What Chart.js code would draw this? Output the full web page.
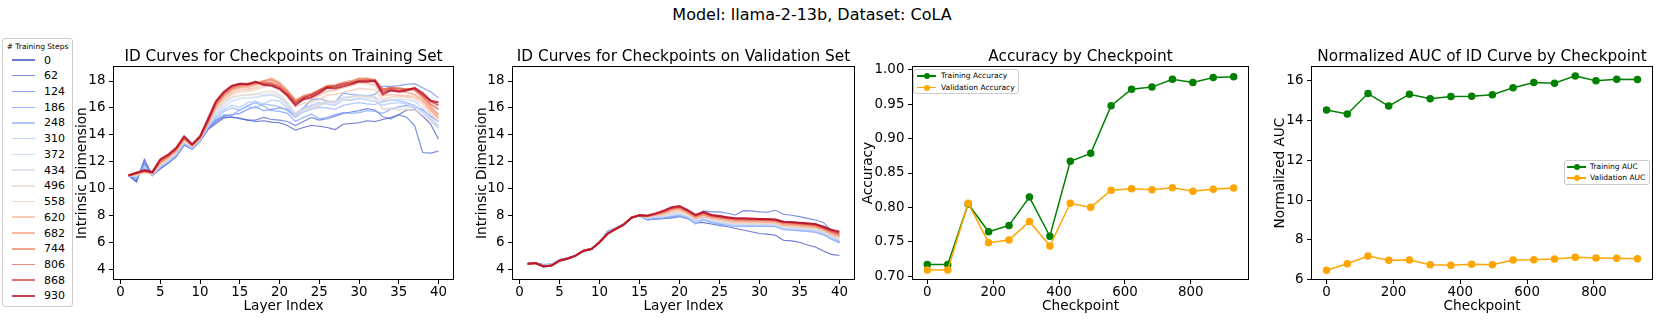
<!DOCTYPE html>
<html>
<head>
<meta charset="utf-8">
<title>Model: llama-2-13b, Dataset: CoLA</title>
<script src="https://cdn.jsdelivr.net/npm/chart.js@4.4.1/dist/chart.umd.min.js"></script>
<style>
    html, body { margin: 0; padding: 0; background: #fff; }
    body { width: 1661px; height: 332px; position: relative; overflow: hidden; font-family: 'DejaVu Sans', sans-serif; color: #000; }
    canvas { position: absolute; top: 0; }
    #suptitle { position: absolute; top: 4px; left: 562px; width: 500px; text-align: center; font-size: 16px; line-height: 22px; }
    .legend { position: absolute; background: rgba(255,255,255,0.8); border: 1px solid #cccccc; border-radius: 3px; box-sizing: border-box; }
    .legend .ttl { position: absolute; left: 0; right: 0; text-align: center; }
    .legend .row { position: absolute; left: 0; height: 0; }
    .legend .swatch { position: absolute; }
    .legend .dot { position: absolute; border-radius: 50%; }
    .legend .lbl { position: absolute; white-space: nowrap; }
</style>
</head>
<body>
<div id="suptitle">Model: llama-2-13b, Dataset: CoLA</div>
<div id="stepsLegend" class="legend" style="left:2px; top:38px; width:71px; height:269px;"></div>
<div id="accLegend" class="legend" style="left:913px; top:69px; width:106px; height:25px;"></div>
<div id="aucLegend" class="legend" style="left:1564px; top:160px; width:86px; height:25px;"></div>
<canvas id="trainChart" width="396" height="332" style="left:70px"></canvas>
<canvas id="valChart" width="397" height="332" style="left:470px"></canvas>
<canvas id="accChart" width="403" height="332" style="left:858px"></canvas>
<canvas id="aucChart" width="399" height="332" style="left:1262px"></canvas>
<script>
// Checkpoints (training steps) and layers
const steps = [0, 62, 124, 186, 248, 310, 372, 434, 496, 558, 620, 682, 744, 806, 868, 930];
const layers = [1, 2, 3, 4, 5, 6, 7, 8, 9, 10, 11, 12, 13, 14, 15, 16, 17, 18, 19, 20,
                21, 22, 23, 24, 25, 26, 27, 28, 29, 30, 31, 32, 33, 34, 35, 36, 37, 38, 39, 40];

// ID curves on the training set, one row per checkpoint
const trainIdCurves = [
    [11.0, 10.5, 12.2, 11.0, 11.5, 11.9, 12.4, 13.25, 12.95, 13.55, 14.4, 14.85, 15.25, 15.35, 15.2, 15.1, 15.0, 15.05, 14.95, 14.9, 14.7, 14.35, 14.55, 14.7, 14.65, 14.55, 14.4, 14.8, 14.85, 14.9, 15.05, 15.0, 15.15, 15.3, 15.5, 15.85, 15.9, 15.4, 14.8, 13.7],
    [11.0, 10.6, 12.0, 11.0, 11.5, 11.95, 12.4, 13.25, 12.95, 13.55, 14.45, 15.0, 15.35, 15.3, 15.25, 15.1, 15.1, 15.3, 15.15, 15.1, 15.0, 14.7, 15.0, 15.3, 15.1, 15.2, 15.4, 15.6, 15.7, 15.8, 15.95, 15.85, 15.35, 15.2, 15.5, 15.3, 14.7, 12.7, 12.65, 12.8],
    [11.0, 10.7, 11.9, 11.0, 11.55, 11.95, 12.45, 13.3, 13.0, 13.6, 14.5, 15.1, 15.4, 15.5, 15.6, 15.9, 16.1, 15.8, 15.9, 16.0, 15.9, 15.4, 16.0, 16.6, 16.7, 16.5, 16.45, 17.1, 17.0, 16.95, 16.9, 17.0, 17.6, 17.6, 17.65, 17.75, 17.8, 17.5, 17.2, 16.75],
    [11.0, 10.8, 11.8, 11.0, 11.6, 12.0, 12.5, 13.3, 13.0, 13.6, 14.55, 15.15, 15.5, 15.45, 15.85, 16.2, 16.4, 16.15, 15.8, 15.75, 15.6, 15.0, 15.3, 15.55, 15.2, 15.3, 15.5, 15.65, 15.6, 15.65, 15.8, 15.75, 15.6, 15.9, 16.1, 16.2, 16.0, 15.9, 15.4, 15.0],
    [11.0, 10.85, 11.6, 11.0, 11.6, 12.0, 12.5, 13.35, 13.0, 13.6, 14.55, 15.3, 15.75, 16.0, 15.85, 16.1, 16.0, 16.3, 16.2, 16.1, 15.8, 15.3, 15.7, 15.9, 16.05, 16.0, 15.9, 16.2, 16.3, 16.4, 16.3, 16.25, 16.5, 16.6, 16.55, 16.4, 16.2, 15.8, 15.4, 15.0],
    [11.0, 10.9, 11.5, 11.05, 11.65, 12.05, 12.55, 13.4, 13.05, 13.65, 14.6, 15.45, 15.9, 16.2, 16.05, 16.4, 16.5, 16.3, 16.6, 16.5, 16.0, 15.6, 16.0, 16.2, 16.4, 16.3, 16.2, 16.6, 16.55, 16.7, 16.6, 16.5, 16.2, 16.35, 16.4, 16.3, 16.1, 15.7, 15.2, 14.7],
    [11.0, 10.95, 11.4, 11.05, 11.7, 12.1, 12.6, 13.45, 13.1, 13.65, 14.65, 15.6, 16.1, 16.5, 16.7, 16.75, 16.8, 16.9, 16.95, 16.75, 16.2, 15.5, 15.85, 16.1, 16.3, 16.5, 16.45, 16.8, 16.85, 16.95, 16.9, 16.85, 16.4, 16.6, 16.65, 16.6, 16.5, 16.0, 15.3, 14.6],
    [11.0, 11.0, 11.3, 11.1, 11.75, 12.15, 12.65, 13.5, 13.1, 13.7, 14.7, 15.75, 16.3, 16.75, 16.9, 16.95, 17.0, 17.0, 17.05, 16.85, 16.3, 15.4, 15.8, 16.0, 16.15, 16.4, 16.35, 16.6, 16.65, 16.75, 16.75, 16.7, 15.9, 16.0, 16.0, 16.1, 16.1, 15.7, 15.1, 14.5],
    [11.0, 11.05, 11.2, 11.1, 11.8, 12.2, 12.7, 13.55, 13.15, 13.7, 14.75, 15.85, 16.4, 16.8, 16.95, 17.0, 17.05, 17.2, 17.25, 17.0, 16.4, 15.6, 15.9, 16.05, 16.2, 16.5, 16.5, 16.7, 16.8, 16.9, 16.85, 16.8, 15.9, 15.9, 15.85, 15.9, 15.85, 15.5, 15.0, 14.5],
    [11.0, 11.05, 11.25, 11.1, 11.85, 12.25, 12.75, 13.6, 13.15, 13.75, 14.8, 15.95, 16.55, 17.0, 17.2, 17.25, 17.35, 17.55, 17.7, 17.45, 16.9, 16.1, 16.35, 16.45, 16.65, 16.95, 17.0, 17.15, 17.3, 17.45, 17.4, 17.35, 16.6, 16.8, 16.85, 16.8, 16.7, 16.3, 15.6, 15.0],
    [11.0, 11.1, 11.25, 11.15, 11.9, 12.3, 12.8, 13.65, 13.2, 13.75, 14.85, 16.05, 16.7, 17.15, 17.35, 17.4, 17.5, 17.75, 18.0, 17.7, 17.1, 16.4, 16.6, 16.7, 16.95, 17.25, 17.3, 17.5, 17.65, 17.85, 17.8, 17.7, 16.9, 17.0, 16.95, 16.9, 16.85, 16.5, 15.8, 15.2],
    [11.0, 11.1, 11.3, 11.15, 11.95, 12.35, 12.85, 13.7, 13.2, 13.8, 14.9, 16.15, 16.85, 17.3, 17.5, 17.55, 17.7, 17.95, 18.2, 17.9, 17.3, 16.6, 16.85, 16.95, 17.2, 17.5, 17.55, 17.75, 17.9, 18.15, 18.1, 18.0, 17.2, 17.3, 17.25, 17.15, 17.0, 16.6, 15.9, 15.3],
    [11.0, 11.15, 11.3, 11.2, 12.0, 12.4, 12.9, 13.75, 13.25, 13.8, 14.95, 16.25, 16.95, 17.4, 17.6, 17.65, 17.8, 18.0, 18.1, 17.8, 17.25, 16.55, 16.9, 17.05, 17.35, 17.65, 17.7, 17.9, 18.0, 18.2, 18.2, 18.1, 17.4, 17.5, 17.45, 17.4, 17.3, 16.8, 16.1, 15.5],
    [11.0, 11.15, 11.35, 11.2, 12.1, 12.45, 12.95, 13.8, 13.25, 13.85, 15.0, 16.35, 17.05, 17.5, 17.7, 17.75, 17.85, 17.9, 17.85, 17.6, 17.1, 16.45, 16.8, 17.0, 17.3, 17.6, 17.65, 17.8, 17.9, 18.05, 18.1, 18.0, 17.35, 17.5, 17.45, 17.4, 17.4, 16.9, 16.3, 15.9],
    [11.0, 11.2, 11.35, 11.25, 12.15, 12.5, 13.0, 13.85, 13.3, 13.85, 15.1, 16.45, 17.15, 17.6, 17.8, 17.8, 17.9, 17.8, 17.75, 17.5, 17.0, 16.35, 16.75, 16.95, 17.25, 17.55, 17.6, 17.75, 17.85, 18.0, 18.0, 18.05, 17.2, 17.4, 17.3, 17.35, 17.45, 17.0, 16.5, 16.2],
    [11.0, 11.2, 11.4, 11.25, 12.2, 12.55, 13.05, 13.9, 13.3, 13.9, 15.2, 16.5, 17.2, 17.65, 17.8, 17.75, 17.95, 17.7, 17.65, 17.4, 16.9, 16.2, 16.65, 16.8, 17.1, 17.5, 17.45, 17.6, 17.75, 17.95, 17.95, 18.0, 17.0, 17.3, 17.2, 17.3, 17.5, 17.1, 16.55, 16.4]
];

// ID curves on the validation set, one row per checkpoint
const valIdCurves = [
    [4.45, 4.52, 4.38, 4.42, 4.75, 4.9, 5.05, 5.35, 5.52, 6.05, 6.85, 7.1, 7.4, 7.85, 8.0, 7.7, 7.75, 7.8, 7.85, 7.95, 7.8, 7.5, 7.5, 7.4, 7.3, 7.2, 7.07, 6.95, 6.82, 6.7, 6.65, 6.57, 6.2, 6.15, 6.05, 5.85, 5.7, 5.4, 5.15, 5.07],
    [4.45, 4.52, 4.4, 4.43, 4.76, 4.9, 5.05, 5.36, 5.53, 6.06, 6.84, 7.1, 7.4, 7.86, 8.0, 7.75, 7.8, 7.85, 7.9, 8.0, 7.9, 7.75, 8.37, 8.3, 8.3, 8.2, 8.07, 8.39, 8.37, 8.3, 8.27, 8.42, 8.12, 8.05, 7.95, 7.82, 7.7, 7.52, 6.9, 6.0],
    [4.45, 4.51, 4.39, 4.43, 4.75, 4.89, 5.05, 5.37, 5.53, 6.06, 6.82, 7.09, 7.39, 7.86, 8.01, 7.72, 7.8, 7.85, 7.95, 8.0, 7.85, 7.6, 7.95, 7.9, 7.85, 7.8, 7.75, 7.7, 7.68, 7.7, 7.7, 7.72, 7.6, 7.55, 7.5, 7.42, 7.38, 7.25, 7.0, 6.5],
    [4.45, 4.51, 4.37, 4.42, 4.74, 4.88, 5.06, 5.38, 5.54, 6.06, 6.8, 7.08, 7.39, 7.86, 8.01, 7.7, 7.78, 7.82, 7.92, 8.0, 7.82, 7.4, 7.68, 7.5, 7.4, 7.3, 7.22, 7.22, 7.22, 7.22, 7.22, 7.2, 6.98, 6.95, 6.9, 6.85, 6.78, 6.6, 6.28, 6.0],
    [4.45, 4.51, 4.35, 4.41, 4.73, 4.87, 5.06, 5.39, 5.54, 6.06, 6.78, 7.07, 7.38, 7.86, 8.02, 7.75, 7.82, 7.85, 7.95, 8.02, 7.85, 7.45, 7.72, 7.52, 7.42, 7.32, 7.25, 7.25, 7.25, 7.25, 7.25, 7.22, 7.0, 6.96, 6.92, 6.87, 6.8, 6.62, 6.32, 6.05],
    [4.45, 4.51, 4.33, 4.4, 4.72, 4.86, 5.06, 5.4, 5.55, 6.06, 6.76, 7.06, 7.38, 7.86, 8.02, 7.8, 7.88, 7.9, 8.02, 8.1, 7.9, 7.5, 7.78, 7.58, 7.48, 7.38, 7.3, 7.3, 7.3, 7.3, 7.3, 7.28, 7.05, 7.02, 6.98, 6.93, 6.87, 6.7, 6.4, 6.15],
    [4.45, 4.5, 4.31, 4.38, 4.71, 4.85, 5.06, 5.41, 5.55, 6.06, 6.74, 7.05, 7.37, 7.87, 8.03, 7.85, 7.92, 7.95, 8.08, 8.15, 7.95, 7.58, 7.82, 7.62, 7.52, 7.42, 7.35, 7.35, 7.35, 7.35, 7.34, 7.33, 7.1, 7.07, 7.02, 6.98, 6.92, 6.75, 6.45, 6.2],
    [4.45, 4.5, 4.29, 4.36, 4.7, 4.84, 5.05, 5.41, 5.56, 6.06, 6.72, 7.04, 7.36, 7.87, 8.03, 7.88, 7.96, 8.0, 8.15, 8.22, 8.0, 7.65, 7.88, 7.68, 7.58, 7.48, 7.4, 7.4, 7.4, 7.4, 7.39, 7.38, 7.15, 7.12, 7.08, 7.04, 6.98, 6.8, 6.5, 6.25],
    [4.45, 4.5, 4.28, 4.35, 4.69, 4.84, 5.05, 5.42, 5.56, 6.05, 6.71, 7.03, 7.36, 7.87, 8.04, 7.9, 8.0, 8.05, 8.22, 8.3, 8.08, 7.72, 7.94, 7.74, 7.64, 7.54, 7.46, 7.45, 7.45, 7.45, 7.44, 7.42, 7.2, 7.18, 7.14, 7.1, 7.04, 6.85, 6.55, 6.3],
    [4.45, 4.5, 4.27, 4.34, 4.69, 4.83, 5.05, 5.42, 5.56, 6.05, 6.7, 7.03, 7.36, 7.87, 8.04, 7.92, 8.04, 8.1, 8.3, 8.4, 8.14, 7.8, 8.0, 7.8, 7.7, 7.6, 7.52, 7.51, 7.5, 7.5, 7.49, 7.47, 7.26, 7.24, 7.2, 7.15, 7.1, 6.9, 6.6, 6.38],
    [4.45, 4.5, 4.26, 4.33, 4.68, 4.83, 5.05, 5.42, 5.56, 6.05, 6.69, 7.02, 7.35, 7.87, 8.05, 7.94, 8.07, 8.15, 8.38, 8.48, 8.2, 7.85, 8.05, 7.85, 7.76, 7.66, 7.58, 7.57, 7.56, 7.55, 7.54, 7.52, 7.32, 7.3, 7.25, 7.2, 7.15, 6.95, 6.66, 6.45],
    [4.45, 4.5, 4.26, 4.33, 4.68, 4.83, 5.05, 5.42, 5.55, 6.05, 6.68, 7.02, 7.35, 7.87, 8.05, 7.96, 8.1, 8.2, 8.45, 8.55, 8.25, 7.9, 8.1, 7.9, 7.82, 7.72, 7.64, 7.63, 7.62, 7.61, 7.6, 7.58, 7.38, 7.35, 7.3, 7.25, 7.2, 7.0, 6.72, 6.52],
    [4.45, 4.5, 4.25, 4.32, 4.68, 4.83, 5.05, 5.42, 5.55, 6.05, 6.68, 7.02, 7.35, 7.87, 8.05, 7.98, 8.12, 8.25, 8.5, 8.6, 8.3, 7.95, 8.15, 7.95, 7.87, 7.78, 7.7, 7.7, 7.68, 7.67, 7.66, 7.64, 7.45, 7.42, 7.37, 7.32, 7.26, 7.05, 6.8, 6.6],
    [4.45, 4.5, 4.25, 4.32, 4.68, 4.83, 5.05, 5.42, 5.55, 6.05, 6.68, 7.02, 7.35, 7.87, 8.05, 8.0, 8.15, 8.3, 8.55, 8.65, 8.35, 8.0, 8.2, 8.0, 7.92, 7.84, 7.76, 7.75, 7.73, 7.72, 7.7, 7.68, 7.5, 7.47, 7.42, 7.37, 7.32, 7.1, 6.85, 6.68],
    [4.45, 4.5, 4.25, 4.32, 4.68, 4.83, 5.05, 5.42, 5.55, 6.05, 6.68, 7.02, 7.35, 7.87, 8.05, 8.02, 8.17, 8.35, 8.6, 8.7, 8.4, 8.05, 8.25, 8.05, 7.97, 7.88, 7.8, 7.8, 7.78, 7.77, 7.75, 7.72, 7.55, 7.52, 7.47, 7.42, 7.37, 7.15, 6.92, 6.75],
    [4.45, 4.5, 4.25, 4.32, 4.68, 4.83, 5.05, 5.42, 5.55, 6.05, 6.68, 7.02, 7.35, 7.87, 8.05, 8.02, 8.19, 8.39, 8.64, 8.74, 8.44, 8.07, 8.3, 8.07, 8.0, 7.9, 7.82, 7.82, 7.8, 7.78, 7.77, 7.74, 7.57, 7.55, 7.5, 7.45, 7.4, 7.2, 6.98, 6.85]
];

// Accuracy and normalized AUC per checkpoint
const trainAccuracy = [0.717, 0.717, 0.805, 0.7645, 0.7737, 0.815, 0.758, 0.867, 0.8786, 0.948, 0.972, 0.975, 0.9865, 0.9817, 0.989, 0.990];
const valAccuracy = [0.7087, 0.7087, 0.806, 0.7486, 0.7525, 0.7795, 0.7438, 0.806, 0.800, 0.825, 0.827, 0.8257, 0.8286, 0.8233, 0.8262, 0.8281];
const trainAuc = [14.53, 14.33, 15.36, 14.73, 15.33, 15.10, 15.21, 15.23, 15.30, 15.65, 15.92, 15.88, 16.25, 16.0, 16.08, 16.07];
const valAuc = [6.47, 6.80, 7.19, 6.97, 6.99, 6.75, 6.72, 6.77, 6.75, 6.99, 7.0, 7.04, 7.12, 7.09, 7.07, 7.05];

// Tick labels
const layerTicks = [0, 5, 10, 15, 20, 25, 30, 35, 40];
const idTicks = [4, 6, 8, 10, 12, 14, 16, 18];
const checkpointTicks = [0, 200, 400, 600, 800];
const accuracyTicks = [0.70, 0.75, 0.80, 0.85, 0.90, 0.95, 1.00];
const aucTicks = [6, 8, 10, 12, 14, 16];

// Matplotlib coolwarm colormap stops
const coolwarmStops = [
    [59, 76, 192], [68, 90, 204], [77, 104, 215], [87, 117, 225], [98, 130, 234], [108, 142, 241],
    [119, 154, 247], [130, 165, 251], [141, 176, 254], [152, 185, 255], [163, 194, 255], [174, 201, 253],
    [184, 208, 249], [194, 213, 244], [204, 217, 238], [213, 219, 230], [221, 221, 221], [229, 216, 209],
    [236, 211, 197], [241, 204, 185], [245, 196, 173], [247, 187, 160], [247, 177, 148], [247, 166, 135],
    [244, 154, 123], [241, 141, 111], [236, 127, 99], [229, 112, 88], [222, 96, 77], [213, 80, 66],
    [203, 62, 56], [192, 40, 47], [180, 4, 38]
];

const TICK_FONT = 13.4;
const LABEL_FONT = 13.7;
const TITLE_FONT = 15.3;

Chart.defaults.font.family = "'DejaVu Sans', sans-serif";
Chart.defaults.color = '#000';
Chart.defaults.animation = false;

// Colour for a checkpoint index
function coolwarm(t, alpha) {
    const p = t * (coolwarmStops.length - 1);
    const i = Math.min(Math.floor(p), coolwarmStops.length - 2);
    const f = p - i;
    const c = coolwarmStops[i].map((v, k) => Math.round(v + (coolwarmStops[i + 1][k] - v) * f));
    return `rgba(${c[0]}, ${c[1]}, ${c[2]}, ${alpha})`;
}

function stepColor(i) {
    return coolwarm(i / (steps.length - 1), 0.75);
}

function stepWidth(i) {
    return 1.1 + 0.9 * i / (steps.length - 1);
}

// Draw the four spines round the plot area
const framePlugin = {
    id: 'frame',
    afterDraw(chart) {
        const { ctx, chartArea: a } = chart;
        ctx.save();
        ctx.strokeStyle = '#000';
        ctx.lineWidth = 1;
        ctx.strokeRect(Math.round(a.left) + 0.5, Math.round(a.top) + 0.5,
            Math.round(a.right) - Math.round(a.left) - 1, Math.round(a.bottom) - Math.round(a.top) - 1);
        ctx.restore();
    }
};

// Build one linear axis
function makeAxis(cfg) {
    return {
        type: 'linear',
        min: cfg.min,
        max: cfg.max,
        afterBuildTicks: (scale) => { scale.ticks = cfg.ticks.map(v => ({ value: v })); },
        afterFit: (scale) => {
            if (cfg.width) scale.width = cfg.width;
            if (cfg.height) scale.height = cfg.height;
        },
        grid: { display: true, drawOnChartArea: false, drawTicks: true, tickLength: 4, tickWidth: 1, color: '#000' },
        border: { display: false },
        ticks: {
            font: { size: TICK_FONT },
            color: '#000',
            padding: cfg.tickPad,
            callback: cfg.format || (v => String(v))
        },
        title: {
            display: true,
            text: cfg.title,
            font: { size: LABEL_FONT },
            color: '#000',
            padding: cfg.titlePad
        }
    };
}

function makeOptions(cfg) {
    return {
        responsive: false,
        animation: false,
        events: [],
        layout: { padding: { top: 0, right: cfg.padRight, bottom: 0, left: 0 } },
        plugins: {
            legend: { display: false },
            tooltip: { enabled: false },
            title: {
                display: true,
                text: cfg.title,
                fullSize: false,
                color: '#000',
                font: { size: TITLE_FONT, weight: 'normal' },
                padding: { top: 47.4, bottom: 0.4 }
            }
        },
        scales: {
            x: makeAxis({
                min: cfg.xMin, max: cfg.xMax, ticks: cfg.xTicks, height: 52, tickPad: 0,
                title: cfg.xTitle, titlePad: { top: 0, bottom: 16.9 }
            }),
            y: makeAxis({
                min: cfg.yMin, max: cfg.yMax, ticks: cfg.yTicks, width: cfg.yWidth, tickPad: 3.6,
                title: cfg.yTitle, titlePad: { top: cfg.yTitlePad, bottom: 0 }, format: cfg.yFormat
            })
        }
    };
}

// ID curve datasets, later checkpoints drawn on top
function idDatasets(curves) {
    return curves.map((curve, i) => ({
        label: String(steps[i]),
        data: layers.map((layer, j) => ({ x: layer, y: curve[j] })),
        borderColor: stepColor(i),
        backgroundColor: stepColor(i),
        borderWidth: stepWidth(i),
        pointRadius: 0,
        tension: 0,
        order: curves.length - i
    }));
}

function checkpointDataset(label, values, color, order) {
    return {
        label: label,
        data: steps.map((s, j) => ({ x: s, y: values[j] })),
        borderColor: color,
        backgroundColor: color,
        pointBackgroundColor: color,
        pointBorderColor: color,
        borderWidth: 1.5,
        pointRadius: 3,
        tension: 0,
        order: order
    };
}

// Create the ID curve charts
function createIdChart(id, curves, title, yTitle, yWidth, yTitlePad, padRight) {
    return new Chart(document.getElementById(id), {
        type: 'line',
        data: { datasets: idDatasets(curves) },
        options: makeOptions({
            title: title, xTitle: 'Layer Index', yTitle: yTitle,
            xMin: -0.95, xMax: 41.95, xTicks: layerTicks,
            yMin: 3.25, yMax: 19.1, yTicks: idTicks,
            yWidth: yWidth, yTitlePad: yTitlePad, padRight: padRight
        }),
        plugins: [framePlugin]
    });
}

// Create the accuracy chart
function createAccuracyChart() {
    return new Chart(document.getElementById('accChart'), {
        type: 'line',
        data: {
            datasets: [
                checkpointDataset('Training Accuracy', trainAccuracy, 'green', 1),
                checkpointDataset('Validation Accuracy', valAccuracy, 'orange', 0)
            ]
        },
        options: makeOptions({
            title: 'Accuracy by Checkpoint', xTitle: 'Checkpoint', yTitle: 'Accuracy',
            xMin: -46.5, xMax: 976.5, xTicks: checkpointTicks,
            yMin: 0.6943, yMax: 1.0055, yTicks: accuracyTicks, yFormat: v => v.toFixed(2),
            yWidth: 54, yTitlePad: 2.6, padRight: 12
        }),
        plugins: [framePlugin]
    });
}

// Create the AUC chart
function createAucChart() {
    return new Chart(document.getElementById('aucChart'), {
        type: 'line',
        data: {
            datasets: [
                checkpointDataset('Training AUC', trainAuc, 'green', 1),
                checkpointDataset('Validation AUC', valAuc, 'orange', 0)
            ]
        },
        options: makeOptions({
            title: 'Normalized AUC of ID Curve by Checkpoint', xTitle: 'Checkpoint', yTitle: 'Normalized AUC',
            xMin: -46.5, xMax: 976.5, xTicks: checkpointTicks,
            yMin: 5.98, yMax: 16.74, yTicks: aucTicks,
            yWidth: 49, yTitlePad: 10.4, padRight: 8
        }),
        plugins: [framePlugin]
    });
}

// HTML legend built from a chart's datasets
function buildLegend(el, chart, cfg) {
    if (cfg.title) {
        const t = document.createElement('div');
        t.className = 'ttl';
        t.style.top = cfg.titleTop + 'px';
        t.style.fontSize = cfg.titleSize + 'px';
        t.textContent = cfg.title;
        el.appendChild(t);
    }
    chart.data.datasets.forEach((ds, i) => {
        const row = document.createElement('div');
        row.className = 'row';
        row.style.top = (cfg.firstRow + i * cfg.rowStep) + 'px';

        const sw = document.createElement('span');
        sw.className = 'swatch';
        sw.style.left = cfg.lineLeft + 'px';
        sw.style.width = cfg.lineLen + 'px';
        sw.style.height = ds.borderWidth + 'px';
        sw.style.top = (-ds.borderWidth / 2) + 'px';
        sw.style.background = ds.borderColor;
        row.appendChild(sw);

        if (ds.pointRadius > 0) {
            const dot = document.createElement('span');
            dot.className = 'dot';
            const d = ds.pointRadius * 2;
            dot.style.width = d + 'px';
            dot.style.height = d + 'px';
            dot.style.left = (cfg.lineLeft + cfg.lineLen / 2 - d / 2) + 'px';
            dot.style.top = (-d / 2) + 'px';
            dot.style.background = ds.pointBackgroundColor;
            row.appendChild(dot);
        }

        const lbl = document.createElement('span');
        lbl.className = 'lbl';
        lbl.style.left = cfg.textLeft + 'px';
        lbl.style.fontSize = cfg.fontSize + 'px';
        lbl.style.lineHeight = cfg.fontSize + 'px';
        lbl.style.top = (-cfg.fontSize / 2) + 'px';
        lbl.textContent = ds.label;
        row.appendChild(lbl);

        el.appendChild(row);
    });
}

document.addEventListener('DOMContentLoaded', () => {
    const trainChart = createIdChart('trainChart', trainIdCurves,
        'ID Curves for Checkpoints on Training Set', 'Intrinsic Dimension', 43, 4.7, 12);
    createIdChart('valChart', valIdCurves,
        'ID Curves for Checkpoints on Validation Set', 'Intrinsic Dimension', 42, 4.1, 12);
    const accChart = createAccuracyChart();
    const aucChart = createAucChart();

    buildLegend(document.getElementById('stepsLegend'), trainChart, {
        title: '# Training Steps', titleTop: 3, titleSize: 7.5,
        firstRow: 21, rowStep: 15.73, lineLeft: 9, lineLen: 23, textLeft: 41, fontSize: 11
    });
    buildLegend(document.getElementById('accLegend'), accChart, {
        firstRow: 6, rowStep: 11.5, lineLeft: 3, lineLen: 19, textLeft: 27, fontSize: 7.5
    });
    buildLegend(document.getElementById('aucLegend'), aucChart, {
        firstRow: 6, rowStep: 11, lineLeft: 2, lineLen: 19, textLeft: 25, fontSize: 7.5
    });
});
</script>
</body>
</html>
